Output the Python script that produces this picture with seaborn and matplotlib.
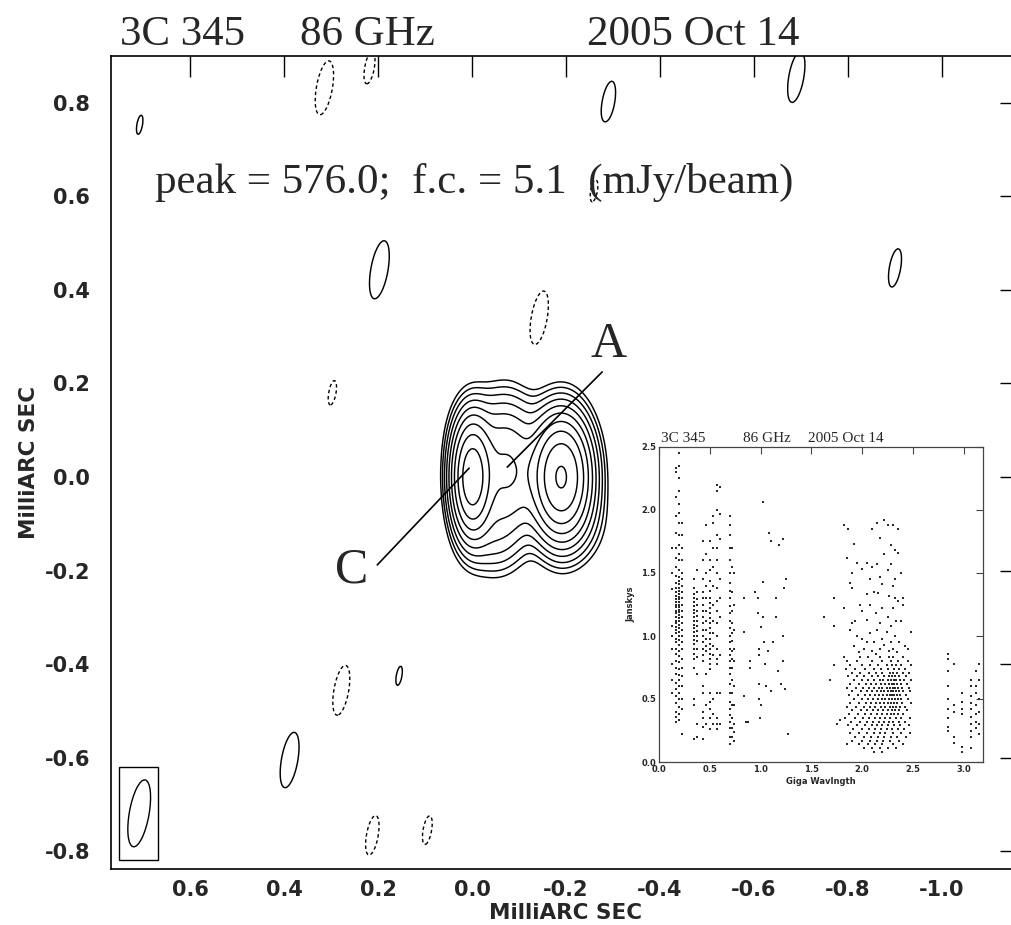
import numpy as np
import pandas as pd
import matplotlib
matplotlib.use("Agg")
import matplotlib.pyplot as plt
from matplotlib.patches import Ellipse, Rectangle
import seaborn as sns

# ---------------- data: main map ----------------
title_parts = ["3C 345", "86 GHz", "2005 Oct 14"]
peak_text = "peak = 576.0;  f.c. = 5.1  (mJy/beam)"
fc = 5.1
contour_levels = [-5.1, 5.1, 8.6, 14.4, 24.2, 40.7, 68.0, 115.0, 193.0, 324.0, 545.0]

# source components (mas, mJy/beam, mas)
comp_x = [0.0, -0.19, -0.075, -0.05, -0.045, -0.22]
comp_y = [0.0, 0.0, 0.01, 0.10, -0.12, -0.10]
comp_peak = [470.0, 576.0, 120.0, 15.0, 24.0, 10.0]
comp_sx = [0.022, 0.032, 0.04, 0.045, 0.035, 0.04]
comp_sy = [0.064, 0.066, 0.075, 0.05, 0.05, 0.05]

# isolated residual features (mas, mJy/beam)
blob_x = [0.197, -0.29, -0.69, -0.90, 0.388, 0.707, 0.155,
          0.314, 0.218, -0.143, 0.297, 0.278, 0.212, 0.095, -0.26]
blob_y = [0.443, 0.80, 0.855, 0.447, -0.605, 0.753, -0.425,
          0.832, 0.875, 0.34, 0.18, -0.456, -0.766, -0.755, 0.614]
blob_amp = [8.6, 6.8, 7.6, 6.4, 8.2, 5.4, 5.4,
            -8.0, -6.0, -8.0, -5.6, -7.5, -6.5, -5.8, -5.6]

# beam (FWHM, mas, deg) and its location
beam_maj, beam_min, beam_pa = 0.145, 0.042, 10.0
beam_center = (0.708, -0.719)
beam_box = (0.669, -0.819, 0.081, 0.199)

xticks_main = [0.6, 0.4, 0.2, 0.0, -0.2, -0.4, -0.6, -0.8, -1.0]
xticklabels_main = ["0.6", "0.4", "0.2", "0.0", "-0.2", "-0.4", "-0.6", "-0.8", "-1.0"]
yticks_main = [0.8, 0.6, 0.4, 0.2, 0.0, -0.2, -0.4, -0.6, -0.8]
yticklabels_main = ["0.8", "0.6", "0.4", "0.2", "0.0", "-0.2", "-0.4", "-0.6", "-0.8"]

# labels A and C: text position and pointer line (mas)
label_names = ["A", "C"]
label_text_xy = [(-0.29, 0.282), (0.257, -0.20)]
label_line_start = [(-0.277, 0.2246), (0.2015, -0.188)]
label_line_end = [(-0.075, 0.021), (0.006, 0.019)]

# ---------------- data: inset (visibility amplitude vs uv distance) ----------------
track_u = [0.13, 0.17, 0.20, 0.23, 0.34, 0.37, 0.43, 0.46, 0.50, 0.53, 0.57, 0.60, 0.70, 0.72, 0.74,
           2.85, 2.90, 2.98, 3.07, 3.12, 3.15]
track_amps = [
    [1.7, 1.5, 1.37, 1.08, 1.0, 0.9, 0.78, 0.65, 0.55],
    [2.33, 2.30, 2.1, 1.95, 1.82, 1.7, 1.62, 1.55, 1.48, 1.42, 1.38, 1.35, 1.32, 1.29, 1.27, 1.25,
     1.23, 1.2, 1.18, 1.15, 1.12, 1.1, 1.07, 1.05, 1.02, 0.98, 0.95, 0.9, 0.86, 0.8, 0.75, 0.7,
     0.63, 0.58, 0.52, 0.47, 0.4, 0.36, 0.32],
    [2.45, 2.35, 2.25, 2.15, 2.05, 1.98, 1.9, 1.8, 1.72, 1.65, 1.6, 1.52, 1.47, 1.44, 1.41, 1.38,
     1.36, 1.33, 1.31, 1.29, 1.27, 1.25, 1.23, 1.21, 1.19, 1.17, 1.14, 1.12, 1.09, 1.06, 1.03,
     1.0, 0.97, 0.93, 0.88, 0.84, 0.79, 0.74, 0.69, 0.65, 0.6, 0.55, 0.5, 0.44, 0.38, 0.33],
    [1.9, 1.8, 1.7, 1.6, 1.5, 1.45, 1.4, 1.35, 1.3, 1.25, 1.2, 1.15, 1.1, 1.05, 1.0, 0.95, 0.9,
     0.82, 0.75, 0.68, 0.6, 0.5, 0.42, 0.22],
    [1.45, 1.38, 1.33, 1.3, 1.27, 1.24, 1.21, 1.18, 1.15, 1.12, 1.09, 1.06, 1.03, 1.0, 0.97,
     0.94, 0.9, 0.86, 0.82, 0.75, 0.5, 0.45, 0.18],
    [1.52, 1.35, 1.29, 1.25, 1.2, 1.16, 1.12, 1.08, 1.04, 1.0, 0.96, 0.9, 0.83, 0.7, 0.3, 0.2],
    [1.75, 1.6, 1.45, 1.35, 1.3, 1.25, 1.2, 1.15, 1.1, 1.05, 1.0, 0.95, 0.9, 0.85, 0.8, 0.6,
     0.55, 0.4, 0.35, 0.28, 0.18],
    [1.88, 1.65, 1.5, 1.4, 1.3, 1.2, 1.12, 1.05, 0.98, 0.92, 0.88, 0.7, 0.45, 0.3],
    [1.75, 1.6, 1.52, 1.44, 1.36, 1.3, 1.26, 1.22, 1.18, 1.14, 1.1, 1.06, 1.02, 0.98, 0.94, 0.9,
     0.86, 0.82, 0.78, 0.74, 0.55, 0.48, 0.42, 0.35, 0.26],
    [1.95, 1.9, 1.7, 1.55, 1.4, 1.25, 1.12, 1.02, 0.92, 0.85, 0.5, 0.38, 0.3],
    [2.2, 2.15, 2.0, 1.8, 1.7, 1.6, 1.5, 1.38, 1.28, 1.2, 1.1, 1.0, 0.9, 0.82, 0.78, 0.55, 0.35,
     0.3, 0.26],
    [2.18, 1.97, 1.77, 1.45, 1.3, 1.15, 0.85, 0.55, 0.3],
    [1.95, 1.88, 1.8, 1.7, 1.6, 1.5, 1.42, 1.36, 1.3, 1.24, 1.18, 1.12, 1.06, 1.0, 0.95, 0.9,
     0.85, 0.8, 0.75, 0.7, 0.62, 0.55, 0.48, 0.42, 0.37, 0.32, 0.27, 0.2, 0.14],
    [1.7, 1.55, 1.35, 1.2, 1.1, 1.02, 0.96, 0.88, 0.82, 0.75, 0.65, 0.55, 0.45, 0.35, 0.27, 0.2],
    [1.5, 1.25, 1.05, 0.9, 0.8, 0.6, 0.45, 0.3, 0.24, 0.17],
    [0.86, 0.82, 0.72, 0.6, 0.5, 0.42, 0.35, 0.28, 0.25],
    [0.78, 0.45, 0.4, 0.2, 0.15],
    [0.55, 0.48, 0.42, 0.38, 0.12, 0.08],
    [0.65, 0.6, 0.52, 0.47, 0.42, 0.36, 0.3, 0.25, 0.2, 0.11],
    [0.72, 0.6, 0.55, 0.45, 0.38, 0.32, 0.27],
    [0.78, 0.65, 0.5, 0.4, 0.3, 0.22],
]

sparse_u = [0.84, 0.84, 0.84, 0.86, 0.88, 0.9, 0.9, 0.95, 0.97, 0.97, 0.98, 0.98, 0.98, 0.98, 0.99,
            1.0, 1.02, 1.02, 1.02, 1.03, 1.04, 1.05, 1.07, 1.08, 1.1, 1.12, 1.15, 1.15, 1.17, 1.18,
            1.2, 1.22, 1.22, 1.23, 1.24, 1.25, 1.22, 1.27, 1.1, 1.0,
            1.62, 1.68, 1.72, 1.72, 1.72, 1.75, 1.78,
            1.82, 1.86, 2.1, 2.15, 2.22, 2.25, 2.3, 2.35, 2.18, 1.92, 2.28, 2.32, 2.35, 2.22,
            1.85, 1.95, 2.05, 2.15, 2.28, 1.9, 2.0, 2.1, 2.25, 2.38, 2.08, 2.18, 2.32, 1.88, 2.2, 2.3,
            1.9, 2.05, 2.12, 2.16, 2.26, 2.32, 2.35, 1.98, 2.08, 2.2, 2.3, 2.4, 2.4, 1.82, 1.9, 2.0,
            2.14, 2.25, 2.33, 1.93, 2.05, 2.18, 2.28, 2.38,
            1.88, 1.95, 2.0, 2.08, 2.12, 2.15, 2.2, 2.24, 2.28, 2.32, 2.36, 2.45, 2.48, 1.92, 2.02,
            2.1, 2.18, 2.26, 2.34, 2.42, 1.97, 2.05, 2.22, 2.3, 2.14]
sparse_amp = [1.3, 1.03, 0.52, 0.32, 0.32, 0.75, 0.8, 1.35, 1.3, 1.18, 0.9, 0.85, 0.62, 0.5, 0.35,
              1.07, 2.06, 1.43, 1.15, 0.95, 0.78, 0.6, 0.88, 1.82, 0.56, 0.95, 1.15, 1.3, 0.72, 1.72,
              0.62, 1.77, 0.8, 1.38, 0.58, 1.45, 1.0, 0.22, 1.75, 0.45,
              1.15, 0.65, 1.3, 1.08, 0.77, 0.3, 0.33,
              1.88, 1.85, 1.85, 1.9, 1.92, 1.88, 1.88, 1.85, 1.78, 1.73, 1.72, 1.68, 1.66, 1.65,
              1.62, 1.58, 1.58, 1.57, 1.57, 1.5, 1.53, 1.55, 1.52, 1.5, 1.45, 1.47, 1.45, 1.42, 1.41, 1.4,
              1.38, 1.33, 1.35, 1.34, 1.32, 1.3, 1.28, 1.25, 1.25, 1.22, 1.22, 1.3, 1.25, 1.22, 1.1, 1.2,
              1.18, 1.15, 1.12, 1.12, 1.13, 1.1, 1.08, 1.12,
              1.05, 1.0, 0.98, 1.02, 0.95, 1.05, 0.98, 1.03, 0.95, 1.0, 0.95, 0.9, 1.03, 0.92, 0.9,
              0.88, 0.9, 0.88, 0.87, 0.92, 0.87, 0.95, 0.93, 0.9, 0.86]

cloud_amp_rows = [0.83, 0.80, 0.77, 0.74, 0.71, 0.68, 0.65, 0.62, 0.59, 0.56, 0.53, 0.50, 0.47,
                  0.44, 0.41, 0.38, 0.35, 0.32, 0.29, 0.26, 0.23, 0.20, 0.17, 0.14, 0.11, 0.08]
cloud_u_rows = [
    [1.82, 1.98, 2.06, 2.18, 2.26, 2.3, 2.4],
    [1.85, 1.95, 2.1, 2.2, 2.28, 2.35, 2.45],
    [1.88, 2.0, 2.08, 2.16, 2.24, 2.29, 2.33, 2.38, 2.48],
    [1.84, 1.93, 2.03, 2.12, 2.19, 2.25, 2.31, 2.36, 2.42],
    [1.9, 1.98, 2.07, 2.14, 2.2, 2.27, 2.3, 2.34, 2.4, 2.46],
    [1.86, 1.95, 2.02, 2.1, 2.16, 2.22, 2.26, 2.29, 2.32, 2.36, 2.43],
    [1.92, 2.0, 2.06, 2.12, 2.18, 2.21, 2.25, 2.28, 2.31, 2.33, 2.37, 2.41, 2.48],
    [1.88, 1.97, 2.04, 2.09, 2.14, 2.19, 2.23, 2.26, 2.29, 2.31, 2.34, 2.38, 2.44],
    [1.85, 1.94, 2.01, 2.07, 2.12, 2.17, 2.2, 2.24, 2.27, 2.3, 2.32, 2.35, 2.39, 2.46],
    [1.9, 1.99, 2.05, 2.1, 2.15, 2.19, 2.22, 2.25, 2.28, 2.3, 2.33, 2.36, 2.4, 2.47],
    [1.87, 1.96, 2.03, 2.08, 2.13, 2.17, 2.21, 2.24, 2.27, 2.29, 2.31, 2.34, 2.37, 2.43],
    [1.92, 2.0, 2.06, 2.11, 2.16, 2.2, 2.23, 2.26, 2.29, 2.32, 2.35, 2.38, 2.45],
    [1.88, 1.97, 2.04, 2.09, 2.14, 2.18, 2.22, 2.25, 2.28, 2.31, 2.34, 2.39, 2.48],
    [1.85, 1.94, 2.02, 2.08, 2.13, 2.19, 2.23, 2.27, 2.3, 2.33, 2.37, 2.42],
    [1.9, 1.99, 2.05, 2.11, 2.16, 2.21, 2.25, 2.29, 2.32, 2.36, 2.44],
    [1.87, 1.96, 2.03, 2.09, 2.15, 2.2, 2.24, 2.28, 2.31, 2.35, 2.4],
    [1.83, 1.93, 2.01, 2.07, 2.13, 2.18, 2.23, 2.27, 2.33, 2.38, 2.47],
    [1.89, 1.98, 2.05, 2.11, 2.17, 2.22, 2.26, 2.3, 2.36, 2.42],
    [1.86, 1.95, 2.03, 2.1, 2.15, 2.2, 2.25, 2.31, 2.37, 2.46],
    [1.91, 2.0, 2.07, 2.13, 2.19, 2.24, 2.29, 2.35, 2.41],
    [1.88, 1.97, 2.05, 2.12, 2.18, 2.23, 2.3, 2.38, 2.47],
    [1.93, 2.02, 2.09, 2.16, 2.22, 2.28, 2.34, 2.43],
    [1.9, 2.0, 2.08, 2.15, 2.21, 2.27, 2.36],
    [1.85, 1.97, 2.06, 2.13, 2.2, 2.3, 2.4],
    [2.02, 2.1, 2.18, 2.25, 2.33],
    [2.12, 2.2],
]

inset_title_parts = ["3C 345", "86 GHz", "2005 Oct 14"]
inset_xticks = [0.0, 0.5, 1.0, 1.5, 2.0, 2.5, 3.0]
inset_yticks = [0.0, 0.5, 1.0, 1.5, 2.0, 2.5]

# ---------------- build ----------------
sns.set_style("white")
plt.rcParams["font.family"] = ["DejaVu Sans"]
plt.rcParams["axes.unicode_minus"] = False

W, H = 1011, 925
fig = plt.figure(figsize=(W / 100, H / 100), dpi=100)

def fx(px):
    return px / W

def fy(py):
    return 1 - py / H

RIGHT_PX = 1021
ax = fig.add_axes([fx(111), fy(869), (RIGHT_PX - 111) / W, (869 - 56) / H])

# model brightness map
gx = np.linspace(-1.18, 0.78, 720)
gy = np.linspace(-0.85, 0.91, 640)
X, Y = np.meshgrid(gx, gy)
Z = np.zeros_like(X)
for x0, y0, a, sx, sy in zip(comp_x, comp_y, comp_peak, comp_sx, comp_sy):
    Z += a * np.exp(-0.5 * (((X - x0) / sx) ** 2 + ((Y - y0) / sy) ** 2))

bsx = beam_min / 2.3548
bsy = beam_maj / 2.3548
t = np.deg2rad(beam_pa)
for x0, y0, a in zip(blob_x, blob_y, blob_amp):
    dx, dy = X - x0, Y - y0
    u = dx * np.cos(t) + dy * np.sin(t)
    v = -dx * np.sin(t) + dy * np.cos(t)
    Z += a * np.exp(-0.5 * ((u / bsx) ** 2 + (v / bsy) ** 2))

neg = [l for l in contour_levels if l < 0]
pos = [l for l in contour_levels if l > 0]
ax.contour(X, Y, Z, levels=pos, colors="black", linewidths=1.05, linestyles="solid")
ax.contour(X, Y, Z, levels=neg, colors="black", linewidths=1.0, linestyles=[(0, (2.5, 2.0))])

# beam
ax.add_patch(Rectangle((beam_box[0], beam_box[1]), beam_box[2], beam_box[3],
                       fill=False, edgecolor="black", linewidth=1.0))
ax.add_patch(Ellipse(beam_center, beam_min, beam_maj, angle=beam_pa,
                     fill=False, edgecolor="black", linewidth=1.0))

ax.set_xlim(0.768, 0.6 - (RIGHT_PX - 190.0) / 470.0)
ax.set_ylim(-0.838, 0.900)
ax.set_xticks(xticks_main)
ax.set_xticklabels(xticklabels_main)
ax.set_yticks(yticks_main)
ax.set_yticklabels(yticklabels_main)
ax.tick_params(direction="in", length=15, width=1.0, top=True, right=True,
               labelsize=15, color="black")
ax.tick_params(axis="x", pad=8)
ax.tick_params(axis="y", pad=15)
for lab in ax.get_xticklabels() + ax.get_yticklabels():
    lab.set_fontweight("bold")
for s in ax.spines.values():
    s.set_linewidth(1.2)
    s.set_color("black")
ax.set_xlabel("MilliARC SEC", fontsize=15.5, fontweight="bold", labelpad=2)
ax.set_ylabel("MilliARC SEC", fontsize=15.5, fontweight="bold", labelpad=4)

# labels A / C
for name, txy, ls, le in zip(label_names, label_text_xy, label_line_start, label_line_end):
    ax.text(txy[0], txy[1], name, fontsize=36, family="Liberation Serif",
            ha="center", va="center")
    ax.annotate("", xy=le, xytext=ls, arrowprops=dict(arrowstyle="-", color="black", lw=1.2,
                                                     shrinkA=0, shrinkB=0))

# titles
serif = "Liberation Serif"
for part, px in zip(title_parts, [120, 300, 587]):
    fig.text(fx(px), fy(45), part, fontsize=31, family=serif, va="baseline", ha="left")
fig.text(fx(155), fy(193), peak_text, fontsize=31, family=serif, va="baseline", ha="left")

# inset
ax2 = fig.add_axes([fx(659), fy(762), (983 - 659) / W, (762 - 447) / H])
ax2.set_facecolor("white")
us, amps = [], []
for u0, al in zip(track_u, track_amps):
    us += [u0] * len(al)
    amps += al
us += sparse_u
amps += sparse_amp
for a0, ul in zip(cloud_amp_rows, cloud_u_rows):
    us += ul
    amps += [a0] * len(ul)
df = pd.DataFrame({"uv": us, "amp": amps})
sns.scatterplot(data=df, x="uv", y="amp", ax=ax2, color="#2a2a2a", s=1.4, marker="s",
                linewidth=0, legend=False)
ax2.set_xlim(0, 3.19)
ax2.set_ylim(0, 2.5)
ax2.set_xticks(inset_xticks)
ax2.set_yticks(inset_yticks)
ax2.set_xticklabels([f"{v:.1f}" for v in inset_xticks])
ax2.set_yticklabels([f"{v:.1f}" for v in inset_yticks])
ax2.tick_params(direction="in", length=5, width=0.8, top=True, right=True,
                labelsize=6, pad=2, color="#444444")
for lab in ax2.get_xticklabels() + ax2.get_yticklabels():
    lab.set_fontweight("bold")
for s in ax2.spines.values():
    s.set_linewidth(0.9)
    s.set_color("#444444")
ax2.set_xlabel("Giga Wavlngth", fontsize=6, fontweight="bold", labelpad=2)
ax2.set_ylabel("Janskys", fontsize=6, fontweight="bold", labelpad=4)
for part, px in zip(inset_title_parts, [661, 743, 808]):
    fig.text(fx(px), fy(442), part, fontsize=11, family=serif, va="baseline", ha="left")

fig.savefig("out.png", dpi=100, facecolor="white")
